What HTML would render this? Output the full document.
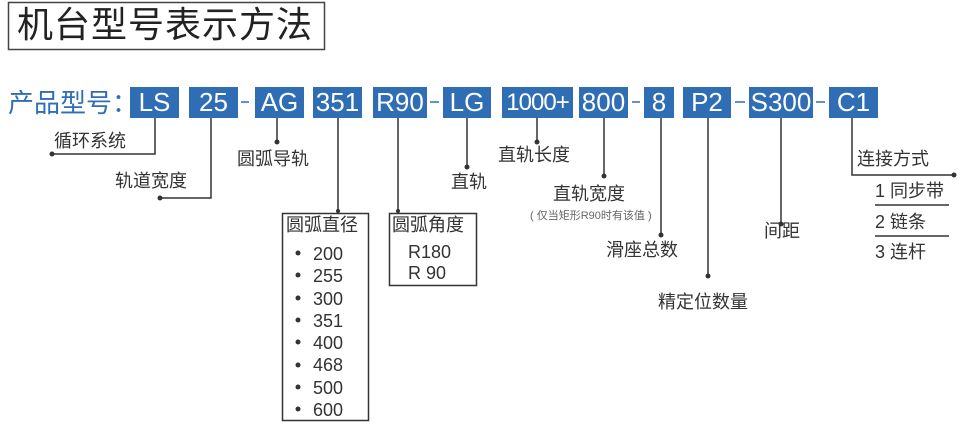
<!DOCTYPE html>
<html><head><meta charset="utf-8"><style>
body{margin:0;width:966px;height:426px;background:#fff;position:relative;overflow:hidden;font-family:"Liberation Sans","Noto Sans CJK SC",sans-serif;color:#333}
.a{position:absolute;white-space:nowrap;line-height:1}
.b{position:absolute;top:87px;height:31px;background:#2f6db5;color:#fff;font-size:26px;line-height:31px;text-align:center;font-family:"Liberation Sans","Noto Sans CJK SC",sans-serif}
.t{font-size:18px;color:#333}
svg{position:absolute;left:0;top:0}
</style></head><body>
<svg width="966" height="426">
<rect x="8.5" y="2.5" width="316" height="47" fill="none" stroke="#444" stroke-width="1.5"/>
<g stroke="#2f6db5" stroke-width="1.5">
<line x1="241" y1="102" x2="249" y2="102"/><line x1="430" y1="102" x2="439" y2="102"/>
<line x1="632" y1="102" x2="640" y2="102"/><line x1="735" y1="102" x2="745" y2="102"/>
<line x1="816" y1="102" x2="825" y2="102"/>
</g>
<g stroke="#333" stroke-width="1.5" fill="none">
<polyline points="155,118 155,154 52,154"/>
<polyline points="211,118 211,198 160,198"/>
<line x1="277" y1="118" x2="277" y2="142"/>
<line x1="338" y1="118" x2="338" y2="213"/>
<line x1="398" y1="118" x2="398" y2="213"/>
<line x1="467" y1="118" x2="467" y2="167"/>
<line x1="537" y1="118" x2="537" y2="142"/>
<line x1="604" y1="118" x2="604" y2="176"/>
<line x1="661" y1="118" x2="661" y2="235"/>
<line x1="708" y1="118" x2="708" y2="276"/>
<line x1="781" y1="118" x2="781" y2="224"/>
<polyline points="852,118 852,175 954,175"/>
<line x1="875" y1="205" x2="949" y2="205"/>
<line x1="875" y1="236" x2="949" y2="236"/>
<rect x="282.5" y="213.5" width="86" height="207"/>
<rect x="389.5" y="213.5" width="87" height="72"/>
</g>
<g fill="#333">
<circle cx="52" cy="154" r="2.5"/><circle cx="160" cy="198" r="2.5"/><circle cx="277" cy="142" r="2.5"/>
<circle cx="338" cy="211" r="2"/><circle cx="398" cy="211" r="2"/>
<circle cx="467" cy="167" r="2.5"/><circle cx="537" cy="142" r="2.5"/><circle cx="604" cy="176" r="2.5"/>
<circle cx="661" cy="235" r="2.5"/><circle cx="708" cy="276" r="2.5"/><circle cx="781" cy="224" r="2.5"/>
<circle cx="954" cy="175" r="2.5"/>
<circle cx="298" cy="253" r="2.5"/><circle cx="298" cy="275" r="2.5"/><circle cx="298" cy="298" r="2.5"/><circle cx="298" cy="320" r="2.5"/>
<circle cx="298" cy="342" r="2.5"/><circle cx="298" cy="365" r="2.5"/><circle cx="298" cy="387" r="2.5"/><circle cx="298" cy="409" r="2.5"/>
</g>
</svg>
<div class="a" style="left:17px;top:7px;font-size:36px;color:#222;letter-spacing:1px">机台型号表示方法</div>
<div class="a" style="left:8px;top:89px;font-size:26px;color:#2f6db5;font-family:'Noto Sans CJK SC',sans-serif">产品型号：</div>
<div class="b" style="left:130px;width:49px">LS</div>
<div class="b" style="left:189px;width:49px">25</div>
<div class="b" style="left:255px;width:49px">AG</div>
<div class="b" style="left:313px;width:49px">351</div>
<div class="b" style="left:373px;width:54px">R90</div>
<div class="b" style="left:443px;width:48px">LG</div>
<div class="b" style="left:502px;width:71px;font-size:24px;letter-spacing:-1px">1000+</div>
<div class="b" style="left:579px;width:49px">800</div>
<div class="b" style="left:644px;width:30px">8</div>
<div class="b" style="left:683px;width:48px">P2</div>
<div class="b" style="left:749px;width:64px">S300</div>
<div class="b" style="left:829px;width:49px">C1</div>
<div class="a t" style="left:54px;top:132px">循环系统</div>
<div class="a t" style="left:115px;top:172px">轨道宽度</div>
<div class="a t" style="left:237px;top:150px">圆弧导轨</div>
<div class="a t" style="left:451px;top:173px">直轨</div>
<div class="a t" style="left:498px;top:146px">直轨长度</div>
<div class="a t" style="left:553px;top:185px">直轨宽度</div>
<div class="a" style="left:530px;top:211px;font-size:11px;color:#666">( 仅当矩形R90时有该值 )</div>
<div class="a t" style="left:606px;top:241px">滑座总数</div>
<div class="a t" style="left:658px;top:293px">精定位数量</div>
<div class="a t" style="left:764px;top:222px">间距</div>
<div class="a t" style="left:857px;top:150px">连接方式</div>
<div class="a t" style="left:875px;top:182px">1 同步带</div>
<div class="a t" style="left:875px;top:213px">2 链条</div>
<div class="a t" style="left:875px;top:243px">3 连杆</div>
<div class="a t" style="left:286px;top:216px">圆弧直径</div>
<div class="a t" style="left:392px;top:216px">圆弧角度</div>
<div class="a t" style="left:408px;top:243px">R180</div>
<div class="a t" style="left:408px;top:264px">R 90</div>
<div class="a t" style="left:313px;top:243px;line-height:22.3px">200<br>255<br>300<br>351<br>400<br>468<br>500<br>600</div>
</body></html>
